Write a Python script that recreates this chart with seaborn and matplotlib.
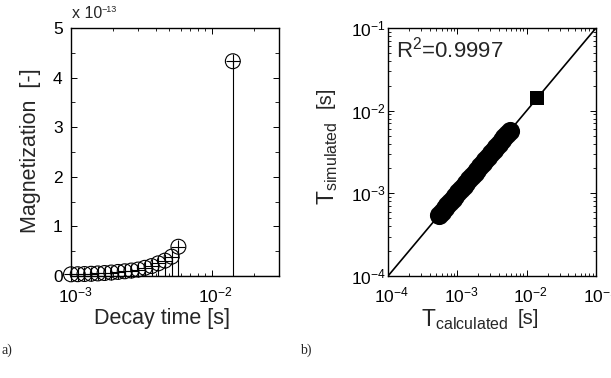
import numpy as np
import pandas as pd
import matplotlib
matplotlib.use("Agg")
import matplotlib.pyplot as plt
import matplotlib.transforms as mtransforms
import seaborn as sns
from matplotlib.ticker import FuncFormatter, LogLocator, NullFormatter, MultipleLocator

# ---------------- data ----------------
decay_time = [1.000e-3, 1.116e-3, 1.246e-3, 1.390e-3, 1.551e-3, 1.731e-3, 1.932e-3,
              2.156e-3, 2.406e-3, 2.685e-3, 2.997e-3, 3.345e-3, 3.733e-3, 4.166e-3,
              4.649e-3, 5.188e-3, 5.790e-3, 1.41e-2]
magnetization = [0.034e-13, 0.036e-13, 0.040e-13, 0.045e-13, 0.052e-13, 0.060e-13, 0.070e-13,
                 0.082e-13, 0.095e-13, 0.110e-13, 0.130e-13, 0.165e-13, 0.200e-13, 0.255e-13,
                 0.310e-13, 0.390e-13, 0.590e-13, 4.33e-13]

t_calculated = [5.5e-4, 6.0e-4, 6.6e-4, 7.2e-4, 7.9e-4, 8.6e-4, 9.4e-4, 1.03e-3, 1.13e-3,
                1.24e-3, 1.35e-3, 1.48e-3, 1.62e-3, 1.77e-3, 1.94e-3, 2.12e-3, 2.32e-3,
                2.54e-3, 2.78e-3, 3.04e-3, 3.33e-3, 3.64e-3, 3.98e-3, 4.36e-3, 4.77e-3,
                5.22e-3, 5.70e-3]
t_simulated = [5.5e-4, 6.0e-4, 6.6e-4, 7.2e-4, 7.9e-4, 8.6e-4, 9.4e-4, 1.03e-3, 1.13e-3,
               1.24e-3, 1.35e-3, 1.48e-3, 1.62e-3, 1.77e-3, 1.94e-3, 2.12e-3, 2.32e-3,
               2.54e-3, 2.78e-3, 3.04e-3, 3.33e-3, 3.64e-3, 3.98e-3, 4.36e-3, 4.77e-3,
               5.22e-3, 5.70e-3]
t_calc_long = [1.41e-2]
t_sim_long = [1.41e-2]
identity_line = [1e-4, 1e-1]
r2_label = "R$^2$=0.9997"

# ---------------- style ----------------
sns.set_theme(style="ticks")
plt.rcParams["font.family"] = ["Liberation Sans", "DejaVu Sans"]
plt.rcParams["mathtext.fontset"] = "custom"
plt.rcParams["mathtext.rm"] = "Liberation Sans"
plt.rcParams["mathtext.it"] = "Liberation Sans:italic"
plt.rcParams["mathtext.bf"] = "Liberation Sans:bold"
plt.rcParams["axes.edgecolor"] = "black"
plt.rcParams["axes.linewidth"] = 1.0

W, H = 611, 378
fig = plt.figure(figsize=(6.11, 3.78), dpi=100)
ax1 = fig.add_axes([71 / W, 1 - 276 / H, 208 / W, 248 / H])
ax2 = fig.add_axes([388 / W, 1 - 276 / H, 208 / W, 248 / H])
TICK_FS = 12.5
LABEL_FS = 15.5

def style_ticks(ax, ypad):
    ax.tick_params(which="both", direction="in", top=True, right=True, colors="black",
                   labelsize=TICK_FS)
    ax.tick_params(axis="x", which="both", pad=7)
    ax.tick_params(axis="y", which="both", pad=ypad)
    ax.tick_params(which="major", length=4, width=0.7)
    ax.tick_params(which="minor", length=2, width=0.6)
    for s in ax.spines.values():
        s.set_color("black")
        s.set_linewidth(1.0)

# ---------------- panel a ----------------
df_a = pd.DataFrame({"t": decay_time, "m": magnetization})
ax1.set_xscale("log")
ax1.vlines(df_a["t"], 0, df_a["m"], colors="black", linewidth=0.8, zorder=2)
ax1.axhline(0, color="black", linewidth=0.8)
sns.scatterplot(data=df_a, x="t", y="m", ax=ax1, marker="o", s=115,
                facecolors="none", edgecolor="black", linewidth=0.8, zorder=3, clip_on=False)
sns.scatterplot(data=df_a, x="t", y="m", ax=ax1, marker="+", s=115,
                color="black", linewidth=0.8, zorder=3, clip_on=False)
ax1.set_xlim(1e-3, 3e-2)
ax1.set_ylim(0, 5e-13)
ax1.yaxis.set_major_locator(MultipleLocator(1e-13))
ax1.yaxis.set_minor_locator(MultipleLocator(0.5e-13))
ax1.yaxis.set_major_formatter(FuncFormatter(lambda v, p: f"{v / 1e-13:.0f}"))
ax1.yaxis.get_offset_text().set_visible(False)
ax1.xaxis.set_major_locator(LogLocator(base=10))
ax1.xaxis.set_minor_locator(LogLocator(base=10, subs=np.arange(2, 10)))
ax1.xaxis.set_minor_formatter(NullFormatter())
style_ticks(ax1, 6)
ax1.tick_params(axis="y", which="minor", length=3)
ax1.set_xlabel("Decay time [s]", fontsize=LABEL_FS)
ax1.set_ylabel("Magnetization  [-]", fontsize=LABEL_FS)
ax1.xaxis.set_label_coords((162 - 71) / 208, -(308 - 276) / 248)
ax1.yaxis.set_label_coords(-(71 - 41) / 208, (276 - 151) / 248)
fig.text(72 / W, 1 - 18 / H, "x 10", fontsize=11.5, ha="left", va="baseline")
fig.text(101.5 / W, 1 - 12 / H, "\u221213", fontsize=6.5, ha="left", va="baseline")

# ---------------- panel b ----------------
ax2.set_xscale("log")
ax2.set_yscale("log")
df_line = pd.DataFrame({"x": identity_line, "y": identity_line})
sns.lineplot(data=df_line, x="x", y="y", ax=ax2, color="black", linewidth=1.2)
df_b = pd.DataFrame({"calc": t_calculated, "sim": t_simulated})
sns.scatterplot(data=df_b, x="calc", y="sim", ax=ax2, marker="o", s=190,
                color="black", edgecolor="black", linewidth=0, zorder=3)
df_c = pd.DataFrame({"calc": t_calc_long, "sim": t_sim_long})
sns.scatterplot(data=df_c, x="calc", y="sim", ax=ax2, marker="s", s=88,
                color="black", edgecolor="black", linewidth=0, zorder=3)
ax2.set_xlim(1e-4, 1e-1)
ax2.set_ylim(1e-4, 1e-1)
ax2.xaxis.set_major_locator(LogLocator(base=10))
ax2.yaxis.set_major_locator(LogLocator(base=10))
ax2.xaxis.set_minor_locator(LogLocator(base=10, subs=np.arange(2, 10)))
ax2.yaxis.set_minor_locator(LogLocator(base=10, subs=np.arange(2, 10)))
ax2.xaxis.set_minor_formatter(NullFormatter())
ax2.yaxis.set_minor_formatter(NullFormatter())
style_ticks(ax2, 1.5)
ax2.set_xlabel(r"T$_{\rm calculated}$", fontsize=16.5)
ax2.set_ylabel(r"T$_{\rm simulated}$", fontsize=16.5)
ax2.xaxis.set_label_coords((465 - 388) / 208, -(307 - 276) / 248)
ax2.yaxis.set_label_coords(-(388 - 340) / 208, (276 - 163) / 248)
# unit part of the axis titles, set slightly raised after the subscript (as in the reference)
fig.text(518 / W, 1 - 324 / H, "[s]", fontsize=14.5, ha="left", va="baseline")
fig.text(331 / W, 1 - 108 / H, "[s]", fontsize=14.5, ha="left", va="baseline",
         rotation=90, rotation_mode="anchor")
ax2.text(0.04, 0.965, r2_label, transform=ax2.transAxes, fontsize=16, ha="left", va="top")

# MATLAB-style: centre the "10" base (not the whole label) under each x tick
shift = mtransforms.ScaledTranslation(4 / 100, 0, fig.dpi_scale_trans)
for ax in (ax1, ax2):
    for lab in ax.get_xticklabels():
        lab.set_transform(lab.get_transform() + shift)

# panel letters
fig.text(2 / W, 1 - 350 / H, "a)", fontsize=10, family="Liberation Serif", va="center")
fig.text(300 / W, 1 - 350 / H, "b)", fontsize=10, family="Liberation Serif", va="center")

fig.savefig("out.png", dpi=100, facecolor="white")
